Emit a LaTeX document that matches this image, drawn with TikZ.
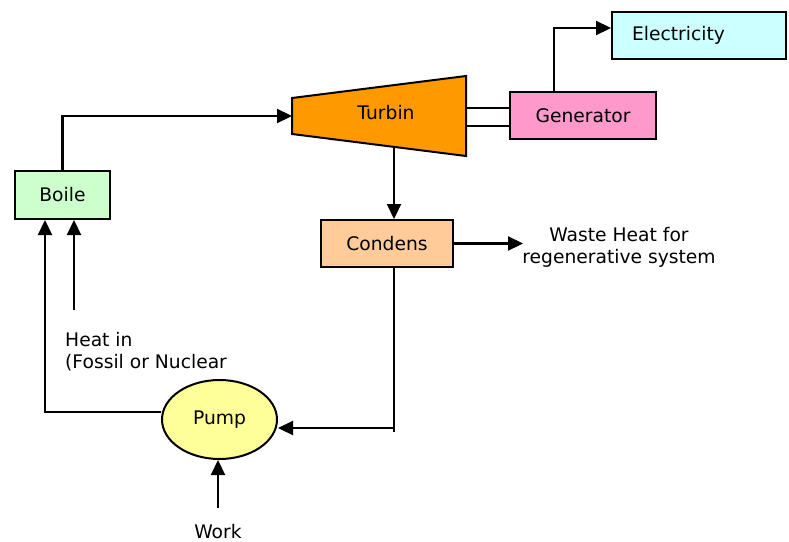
\documentclass[tikz,border=0pt]{standalone}
\usepackage{fontspec}
\setmainfont{DejaVu Sans}
\usetikzlibrary{arrows.meta,shapes.geometric}
\definecolor{boilc}{HTML}{CCFFCC}
\definecolor{turbc}{HTML}{FF9900}
\definecolor{genc}{HTML}{FF99CC}
\definecolor{elecc}{HTML}{CCFFFF}
\definecolor{condc}{HTML}{FFCC99}
\definecolor{pumpc}{HTML}{FFFF99}
\begin{document}
\begin{tikzpicture}[x=1pt,y=-1pt,
  font=\fontsize{18.7}{22}\selectfont,
  box/.style={draw, line width=2pt, rectangle, inner sep=0pt},
  conn/.style={line width=2.2pt},
  arr/.style={conn, -{Triangle[length=15pt,width=14pt]}},
  lbl/.style={inner sep=0pt}]
\useasboundingbox (0,0) rectangle (789,541);

% components
\node[box, fill=boilc, minimum width=95pt, minimum height=48pt] (boiler) at (62.5,195) {Boile};
\draw[line width=2pt, fill=turbc] (292,98) -- (466,76) -- (466,156) -- (292,134) -- cycle;
\node[lbl] (turbin) at (386,113) {Turbin};
\coordinate (tin) at (292,116);
\coordinate (tout1) at (466,108);
\coordinate (tout2) at (466,126);
\coordinate (tbot) at (394,147);
\node[box, fill=genc, minimum width=146pt, minimum height=47pt] (gen) at (583,115.5) {Generator};
\node[box, fill=elecc, minimum height=47pt, text width=134pt, inner xsep=20pt, align=left] (elec) at (699,35.5) {Electricity};
\node[box, fill=condc, minimum width=132pt, minimum height=47pt] (cond) at (387,243.5) {Condens};
\node[draw, ellipse, line width=2pt, fill=pumpc, minimum width=115pt, minimum height=79pt, inner sep=0pt] (pump) at (219.5,419.5) {Pump};

% labels
\node[lbl, align=center] (waste) at (619,247) {Waste Heat for\\regenerative system};
\node[lbl, align=left, anchor=north west] (heatlbl) at (65,332) {Heat in\\(Fossil or Nuclear};
\node[lbl, anchor=base] (worklbl) at (218,538) {Work};

% connectors
\draw[arr] (boiler.north) |- (tin);
\draw[arr] (tbot) -- (tbot |- cond.north);
\draw[conn] (tout1) -- (tout1 -| gen.west);
\draw[conn] (tout2) -- (tout2 -| gen.west);
\draw[arr] ([xshift=-29pt]gen.north) |- ([yshift=7.5pt]elec.west);
\coordinate (wh) at (523,243.5);
\draw[arr] (cond.east) -- (wh);
\coordinate (cb) at (394,432);
\coordinate (cj) at (394,428);
\draw[conn] (cond.south -| cb) -- (cb);
\draw[arr] (cj) -- (cj -| pump.east);
\draw[arr] ([yshift=7.5pt]pump.west) -| ([xshift=-17.5pt]boiler.south);
\coordinate (heat) at (74,310);
\draw[arr] (heat) -- (heat |- boiler.south);
\coordinate (work) at (218,508);
\draw[arr] (work) -- (work |- pump.south);
\end{tikzpicture}
\end{document}
